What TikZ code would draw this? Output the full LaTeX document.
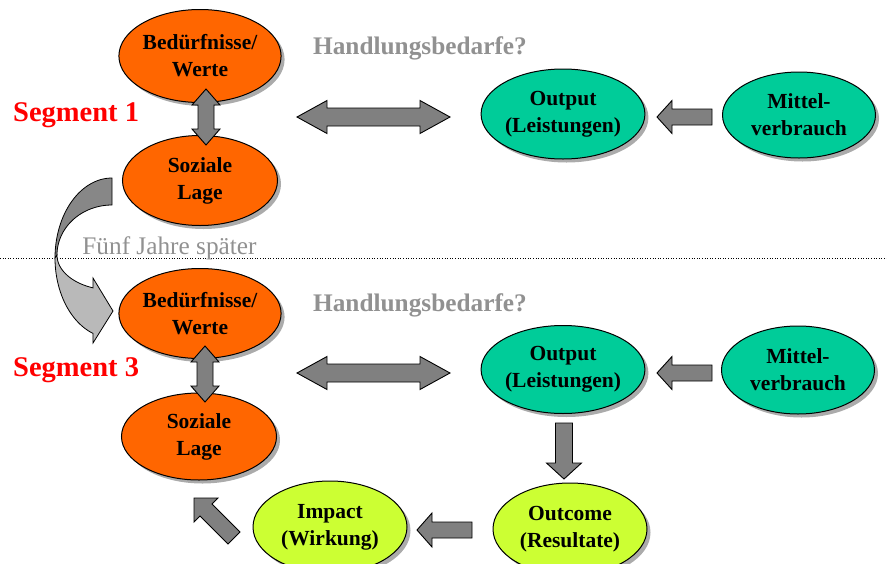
\documentclass[tikz,border=0pt]{standalone}
\usepackage{fontspec}
\setmainfont{Liberation Serif}
\usetikzlibrary{shapes.geometric,shadows,calc}
\definecolor{orng}{RGB}{255,102,0}
\definecolor{tealg}{RGB}{0,204,153}
\definecolor{limeg}{RGB}{204,255,51}
\definecolor{agray}{RGB}{128,128,128}
\definecolor{tgray}{RGB}{145,145,145}
\definecolor{darkband}{RGB}{135,135,135}
\definecolor{lightband}{RGB}{185,185,185}
\begin{document}
\begin{tikzpicture}[x=1pt,y=-1pt,
  shaftw/.store in=\bah, headw/.store in=\bahw, headl/.store in=\bahl,
  shaftw=8.5, headw=16.5, headl=15,
  bubble/.style={ellipse, draw=black, line width=1pt, inner sep=0pt,
    minimum width=155pt, minimum height=90pt, align=center,
    font=\fontsize{21.5}{27}\selectfont\bfseries,
    drop shadow={shadow xshift=3.5pt, shadow yshift=-3.5pt, fill=black!55, opacity=.6}},
  orangebub/.style={bubble, fill=orng},
  tealbub/.style={bubble, fill=tealg},
  limebub/.style={bubble, fill=limeg},
  seglabel/.style={anchor=west, text=red, font=\fontsize{28.5}{30}\selectfont\bfseries, inner sep=0pt},
  needlabel/.style={text=tgray, font=\fontsize{25.3}{28}\selectfont\bfseries, inner sep=0pt},
  blk/.style={fill=agray, draw=black, line width=0.9pt,
    to path={let \p1=(\tikztostart), \p2=(\tikztotarget),
      \n1={atan2(\y2-\y1,\x2-\x1)}, \n2={veclen(\x2-\x1,\y2-\y1)-\bahl} in
      ($(\p1)+(\n1+90:\bah pt)$) -- ($(\p1)+(\n1:\n2)+(\n1+90:\bah pt)$)
      -- ($(\p1)+(\n1:\n2)+(\n1+90:\bahw pt)$) -- (\p2)
      -- ($(\p1)+(\n1:\n2)+(\n1-90:\bahw pt)$) -- ($(\p1)+(\n1:\n2)+(\n1-90:\bah pt)$)
      -- ($(\p1)+(\n1-90:\bah pt)$) -- cycle}},
  dblk/.style={fill=agray, draw=black, line width=0.9pt,
    to path={let \p1=(\tikztostart), \p2=(\tikztotarget),
      \n1={atan2(\y2-\y1,\x2-\x1)}, \n2={veclen(\x2-\x1,\y2-\y1)-\bahl} in
      (\p1) -- ($(\p1)+(\n1:\bahl pt)+(\n1+90:\bahw pt)$) -- ($(\p1)+(\n1:\bahl pt)+(\n1+90:\bah pt)$)
      -- ($(\p1)+(\n1:\n2)+(\n1+90:\bah pt)$) -- ($(\p1)+(\n1:\n2)+(\n1+90:\bahw pt)$) -- (\p2)
      -- ($(\p1)+(\n1:\n2)+(\n1-90:\bahw pt)$) -- ($(\p1)+(\n1:\n2)+(\n1-90:\bah pt)$)
      -- ($(\p1)+(\n1:\bahl pt)+(\n1-90:\bah pt)$) -- ($(\p1)+(\n1:\bahl pt)+(\n1-90:\bahw pt)$) -- cycle}}
]
\useasboundingbox (0,0) rectangle (887,563);

% dotted separator
\coordinate (sepL) at (0,258);
\coordinate (sepR) at (887,258);
\draw[line width=0.9pt, dash pattern=on 1pt off 1.6pt] (sepL) -- (sepR);

% labels
\node[seglabel] (seg1) at (13,115.5) {Segment 1};
\node[seglabel] (seg3) at (13,370.5) {Segment 3};
\node[needlabel] (hb1) at (420,48.5) {Handlungsbedarfe?};
\node[needlabel] (hb3) at (420,305.5) {Handlungsbedarfe?};
\node[text=tgray, font=\fontsize{25.3}{28}\selectfont, inner sep=0pt] (later) at (169.5,248) {Fünf Jahre später};

% curved arrow (five years later)
\fill[darkband, draw=black, line width=0.8pt]
  plot[domain=270:180, samples=40, smooth] ({112+57*cos(\x)},{258+80*sin(\x)})
  -- plot[domain=180:270, samples=40, smooth] ({112+55*cos(\x)},{255+50*sin(\x)}) -- cycle;
\fill[lightband, draw=black, line width=0.8pt]
  plot[domain=180:109.5, samples=40, smooth] ({112+57*cos(\x)},{258+80*sin(\x)})
  -- (93,343) -- (113,311) -- (93,278) -- (93,287.8)
  -- plot[domain=110.2:180, samples=40, smooth] ({112+55*cos(\x)},{255+35*sin(\x)}) -- cycle;

% segment 1 nodes
\node[orangebub, minimum height=93pt] (bw1) at (200,56) {Bedürfnisse/\\Werte};
\node[orangebub] (sl1) at (200,180.5) {Soziale\\Lage};
\node[tealbub, minimum width=152pt] (out1) at (563,114) {Output\\(Leistungen)};
\node[tealbub, minimum width=153pt, minimum height=86pt] (mit1) at (799,115) {Mittel-\\verbrauch};

% segment 3 nodes
\node[orangebub] (bw3) at (200,313.5) {Bedürfnisse/\\Werte};
\node[orangebub, minimum height=87pt] (sl3) at (199,436.5) {Soziale\\Lage};
\node[tealbub, minimum width=153pt, minimum height=88pt] (out3) at (563,369.5) {Output\\(Leistungen)};
\node[tealbub, minimum width=153pt, minimum height=88pt] (mit3) at (798,370) {Mittel-\\verbrauch};
\node[limebub, minimum width=154pt, minimum height=92pt] (outc) at (570,529) {Outcome\\(Resultate)};
\node[limebub, minimum width=154pt, minimum height=92pt] (imp) at (330,527) {Impact\\(Wirkung)};

% arrow end points
\coordinate (v1a) at (206,89);   \coordinate (v1b) at (206,145);
\coordinate (v3a) at (205,346);  \coordinate (v3b) at (205,402);
\coordinate (h1a) at (297,117);  \coordinate (h1b) at (450,117);
\coordinate (h3a) at (297,373);  \coordinate (h3b) at (450,373);
\coordinate (m1t) at (712,117);  \coordinate (m1h) at (657,117);
\coordinate (m3t) at (712,373);  \coordinate (m3h) at (657,373);
\coordinate (dt) at (564,423);   \coordinate (dh) at (564,479);
\coordinate (ot) at (472,530);   \coordinate (oh) at (417,530);
\coordinate (it) at (234,538);   \coordinate (ih) at (194,498);

% block arrows
\draw[dblk, shaftw=8, headw=14, headl=16] (v1a) to (v1b);
\draw[dblk, shaftw=8, headw=14, headl=16] (v3a) to (v3b);
\draw[dblk, shaftw=9, headw=16.5, headl=30] (h1a) to (h1b);
\draw[dblk, shaftw=9, headw=16.5, headl=30] (h3a) to (h3b);
\draw[blk, shaftw=8, headw=16.5, headl=15] (m1t) to (m1h);
\draw[blk, shaftw=8, headw=16.5, headl=15] (m3t) to (m3h);
\draw[blk, shaftw=8.5, headw=17.5, headl=16] (dt) to (dh);
\draw[blk, shaftw=8, headw=17, headl=15] (ot) to (oh);
\draw[blk, shaftw=8.5, headw=17, headl=17] (it) to (ih);
\end{tikzpicture}
\end{document}
